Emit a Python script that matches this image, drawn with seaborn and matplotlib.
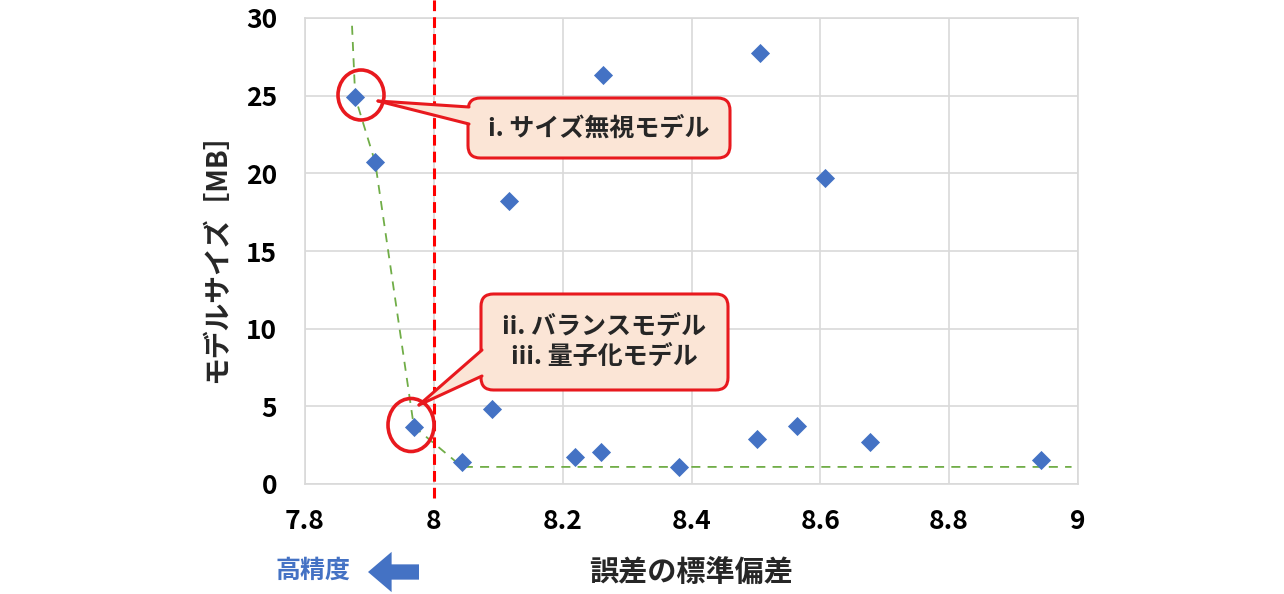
import matplotlib
matplotlib.use("Agg")
import matplotlib.pyplot as plt
import seaborn as sns
import pandas as pd
from matplotlib.patches import FancyBboxPatch, Polygon, Ellipse

# ---- data ----
err_std = [7.878, 7.909, 7.969, 8.044, 8.090, 8.117, 8.219, 8.260, 8.263,
           8.381, 8.502, 8.507, 8.564, 8.607, 8.677, 8.943]
model_mb = [24.9, 20.7, 3.7, 1.4, 4.8, 18.2, 1.75, 2.05, 26.3,
            1.1, 2.9, 27.75, 3.75, 19.7, 2.7, 1.55]
front_x = [7.873, 7.878, 7.909, 7.969, 8.044, 8.990]
front_y = [29.5, 24.9, 20.7, 3.7, 1.1, 1.1]
threshold_x = 8.0
xticks = [7.8, 8.0, 8.2, 8.4, 8.6, 8.8, 9.0]
xtick_labels = ["7.8", "8", "8.2", "8.4", "8.6", "8.8", "9"]
yticks = [0, 5, 10, 15, 20, 25, 30]
label1 = "i. サイズ無視モデル"
label2 = "ii. バランスモデル\niii. 量子化モデル"

sns.set_theme(style="white")
plt.rcParams['font.family'] = ['Noto Sans CJK JP', 'DejaVu Sans']

W, H = 1284, 594
fig = plt.figure(figsize=(W / 100, H / 100), dpi=100)
L, R, T, B = 305, 1078, 18, 484
ax = fig.add_axes([L / W, 1 - B / H, (R - L) / W, (B - T) / H])

df = pd.DataFrame({"x": err_std, "y": model_mb})
ax.plot(front_x, front_y, color="#70AD47", lw=1.3, ls=(0, (5, 4)), zorder=2)
sns.scatterplot(data=df, x="x", y="y", marker="D", s=95, color="#4472C4",
                linewidth=0, ax=ax, zorder=3)
ax.axvline(threshold_x, ymin=-0.03, ymax=1.04, color="#FF0000", lw=2.2,
           ls=(0, (3.5, 2)), clip_on=False, zorder=4)

ax.set_xlim(7.8, 9.0)
ax.set_ylim(0, 30)
ax.set_xticks(xticks)
ax.set_xticklabels(xtick_labels)
ax.set_yticks(yticks)
ax.grid(True, color="#D9D9D9", lw=1.2)
for s in ax.spines.values():
    s.set_color("#D9D9D9")
    s.set_linewidth(1.2)
ax.tick_params(length=0, labelsize=19, pad=17, colors="black")
ax.tick_params(axis="y", pad=20)
for t in ax.get_xticklabels() + ax.get_yticklabels():
    t.set_fontweight("bold")

ax.set_xlabel("誤差の標準偏差", fontsize=21, fontweight="bold", labelpad=16)
ax.set_ylabel("モデルサイズ［MB］", fontsize=20, fontweight="bold", labelpad=11)

# ---- callouts ----
RED = "#E8191E"
PEACH = "#FBE5D6"
asp = (R - L) / (B - T)


def fx(px):
    return (px - L) / (R - L)


def fy(py):
    return (B - py) / (B - T)


def callout(x0, y0, x1, y1, apex, base_a, base_b, text):
    box = FancyBboxPatch((fx(x0), fy(y1)), fx(x1) - fx(x0), fy(y0) - fy(y1),
                         boxstyle="round,pad=0,rounding_size=0.016",
                         mutation_aspect=asp, transform=ax.transAxes,
                         fc=PEACH, ec=RED, lw=2.2, zorder=6, clip_on=False)
    ax.add_patch(box)
    inner = (base_a[0] + 6, base_a[1]), (base_b[0] + 6, base_b[1])
    poly = Polygon([(fx(apex[0]), fy(apex[1])), (fx(base_a[0]), fy(base_a[1])),
                    (fx(inner[0][0]), fy(inner[0][1])),
                    (fx(inner[1][0]), fy(inner[1][1])),
                    (fx(base_b[0]), fy(base_b[1]))],
                   closed=True, transform=ax.transAxes, fc=PEACH, ec="none",
                   zorder=7, clip_on=False)
    ax.add_patch(poly)
    for b in (base_a, base_b):
        ax.plot([fx(apex[0]), fx(b[0])], [fy(apex[1]), fy(b[1])],
                transform=ax.transAxes, color=RED, lw=2.2, zorder=8,
                clip_on=False, solid_capstyle="round")
    ax.text((fx(x0) + fx(x1)) / 2, (fy(y0) + fy(y1)) / 2, text,
            transform=ax.transAxes, ha="center", va="center", fontsize=18,
            fontweight="bold", linespacing=1.3, zorder=9)


callout(468, 98, 730, 158, (378, 101), (469, 107), (469, 124), label1)
callout(481, 294, 728, 390, (419, 405), (482, 350), (482, 376), label2)

for cx, cy, w, h in [(361, 95, 46, 50), (411, 425, 46, 53)]:
    e = Ellipse((fx(cx), fy(cy)), w / (R - L), h / (B - T),
                transform=ax.transAxes, fc="none", ec=RED, lw=2.6, zorder=5,
                clip_on=False)
    ax.add_patch(e)

# ---- "high accuracy" hint ----
fig.text(313 / W, 1 - 571 / H, "高精度", color="#4472C4", fontsize=18,
         fontweight="bold", ha="center", va="center")
ax.annotate("", xy=(368, H - 572), xycoords="figure pixels",
            xytext=(419, H - 572), textcoords="figure pixels",
            arrowprops=dict(arrowstyle="simple,head_length=0.85,head_width=1.45,tail_width=0.55",
                            fc="#4472C4", ec="none", mutation_scale=20,
                            shrinkA=0, shrinkB=0))

fig.savefig("out.png", dpi=100)
